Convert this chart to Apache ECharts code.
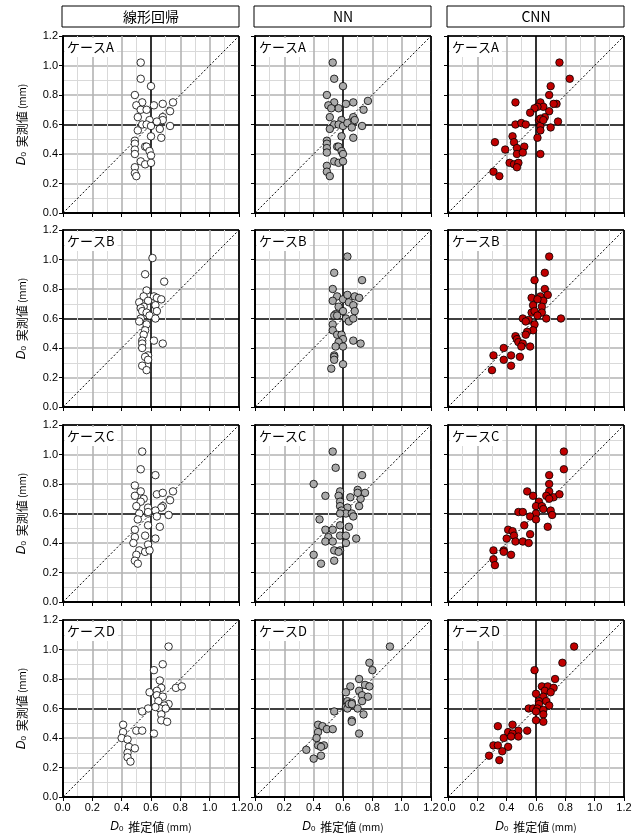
<!DOCTYPE html>
<html>
<head>
<meta charset="utf-8">
<script src="https://cdn.jsdelivr.net/npm/echarts@6/dist/echarts.min.js"></script>
<style>
  html, body { margin: 0; padding: 0; background: #fff; }
  #chart { width: 641px; height: 840px; }
</style>
</head>
<body>
<div id="chart"></div>
<script>
const linearA = [[0.53,1.02],[0.53,0.91],[0.60,0.86],[0.49,0.80],[0.54,0.75],[0.50,0.73],[0.53,0.70],[0.57,0.70],[0.62,0.73],[0.68,0.74],[0.75,0.75],[0.73,0.69],[0.51,0.65],[0.68,0.65],[0.59,0.63],[0.68,0.63],[0.54,0.60],[0.57,0.60],[0.60,0.59],[0.64,0.62],[0.66,0.57],[0.73,0.59],[0.51,0.56],[0.60,0.52],[0.67,0.51],[0.49,0.49],[0.49,0.47],[0.56,0.45],[0.57,0.45],[0.49,0.43],[0.49,0.40],[0.59,0.42],[0.60,0.39],[0.53,0.35],[0.56,0.33],[0.60,0.34],[0.49,0.31],[0.49,0.27],[0.50,0.25]];
const nnA = [[0.53,1.02],[0.54,0.91],[0.60,0.86],[0.49,0.80],[0.54,0.75],[0.50,0.73],[0.57,0.71],[0.52,0.71],[0.62,0.74],[0.67,0.75],[0.77,0.76],[0.74,0.70],[0.51,0.65],[0.67,0.65],[0.59,0.63],[0.68,0.63],[0.54,0.60],[0.57,0.60],[0.60,0.59],[0.63,0.61],[0.66,0.58],[0.73,0.59],[0.51,0.57],[0.59,0.52],[0.67,0.51],[0.49,0.49],[0.49,0.47],[0.56,0.45],[0.57,0.45],[0.49,0.44],[0.49,0.41],[0.59,0.42],[0.60,0.40],[0.54,0.35],[0.57,0.34],[0.60,0.35],[0.49,0.32],[0.49,0.28],[0.51,0.25]];
const cnnA = [[0.76,1.02],[0.83,0.91],[0.70,0.86],[0.69,0.80],[0.46,0.75],[0.63,0.75],[0.74,0.74],[0.65,0.72],[0.61,0.72],[0.59,0.71],[0.56,0.68],[0.69,0.69],[0.72,0.74],[0.66,0.65],[0.62,0.63],[0.63,0.64],[0.46,0.60],[0.50,0.61],[0.53,0.60],[0.63,0.59],[0.70,0.58],[0.75,0.62],[0.65,0.63],[0.63,0.56],[0.61,0.51],[0.44,0.52],[0.32,0.48],[0.45,0.48],[0.39,0.43],[0.52,0.45],[0.47,0.44],[0.47,0.40],[0.51,0.41],[0.63,0.40],[0.42,0.34],[0.45,0.33],[0.48,0.34],[0.47,0.31],[0.31,0.28],[0.35,0.25]];

const linearB = [[0.61,1.01],[0.56,0.90],[0.69,0.85],[0.57,0.79],[0.55,0.75],[0.62,0.75],[0.64,0.74],[0.67,0.73],[0.58,0.72],[0.52,0.71],[0.63,0.69],[0.55,0.68],[0.53,0.67],[0.54,0.65],[0.64,0.65],[0.57,0.64],[0.59,0.62],[0.63,0.60],[0.53,0.60],[0.52,0.58],[0.57,0.56],[0.56,0.52],[0.55,0.49],[0.54,0.45],[0.62,0.45],[0.68,0.43],[0.54,0.43],[0.54,0.40],[0.58,0.35],[0.56,0.34],[0.58,0.32],[0.54,0.28],[0.57,0.25]];
const nnB = [[0.63,1.02],[0.54,0.91],[0.73,0.86],[0.53,0.80],[0.56,0.75],[0.53,0.72],[0.60,0.73],[0.63,0.76],[0.68,0.75],[0.71,0.74],[0.64,0.71],[0.67,0.69],[0.57,0.68],[0.68,0.65],[0.60,0.65],[0.55,0.63],[0.54,0.62],[0.56,0.62],[0.62,0.60],[0.64,0.58],[0.67,0.60],[0.53,0.56],[0.53,0.52],[0.56,0.49],[0.59,0.49],[0.60,0.46],[0.57,0.44],[0.67,0.45],[0.72,0.43],[0.55,0.41],[0.60,0.41],[0.54,0.35],[0.54,0.34],[0.54,0.32],[0.60,0.29],[0.52,0.26]];
const cnnB = [[0.69,1.02],[0.66,0.91],[0.59,0.86],[0.66,0.80],[0.57,0.74],[0.63,0.75],[0.68,0.76],[0.65,0.72],[0.61,0.73],[0.58,0.69],[0.64,0.68],[0.57,0.64],[0.59,0.65],[0.64,0.64],[0.61,0.62],[0.51,0.60],[0.55,0.59],[0.53,0.58],[0.67,0.60],[0.77,0.60],[0.59,0.56],[0.58,0.52],[0.54,0.51],[0.53,0.49],[0.46,0.48],[0.47,0.46],[0.48,0.44],[0.51,0.43],[0.50,0.41],[0.56,0.41],[0.38,0.40],[0.31,0.35],[0.43,0.35],[0.49,0.34],[0.38,0.32],[0.43,0.28],[0.30,0.25]];

const linearC = [[0.54,1.02],[0.53,0.90],[0.63,0.86],[0.49,0.79],[0.53,0.75],[0.49,0.72],[0.55,0.70],[0.64,0.73],[0.68,0.74],[0.75,0.75],[0.73,0.69],[0.53,0.68],[0.50,0.65],[0.68,0.65],[0.58,0.64],[0.67,0.64],[0.52,0.60],[0.58,0.60],[0.63,0.62],[0.64,0.58],[0.72,0.59],[0.51,0.56],[0.58,0.52],[0.66,0.51],[0.49,0.49],[0.56,0.45],[0.49,0.44],[0.63,0.43],[0.48,0.40],[0.58,0.39],[0.52,0.35],[0.56,0.34],[0.59,0.35],[0.50,0.32],[0.49,0.28],[0.51,0.26],[0.58,0.61]];
const nnC = [[0.53,1.02],[0.55,0.91],[0.73,0.86],[0.40,0.80],[0.48,0.72],[0.58,0.75],[0.57,0.72],[0.65,0.71],[0.70,0.76],[0.75,0.74],[0.72,0.70],[0.70,0.74],[0.58,0.68],[0.58,0.65],[0.71,0.65],[0.63,0.64],[0.59,0.62],[0.62,0.60],[0.58,0.60],[0.66,0.60],[0.67,0.58],[0.44,0.56],[0.58,0.52],[0.64,0.51],[0.48,0.49],[0.53,0.49],[0.50,0.44],[0.58,0.45],[0.62,0.45],[0.69,0.43],[0.48,0.41],[0.53,0.41],[0.62,0.40],[0.54,0.35],[0.58,0.35],[0.57,0.34],[0.40,0.32],[0.54,0.28],[0.45,0.26]];
const cnnC = [[0.79,1.02],[0.79,0.90],[0.69,0.86],[0.69,0.80],[0.54,0.75],[0.58,0.72],[0.62,0.68],[0.69,0.75],[0.67,0.72],[0.72,0.71],[0.76,0.73],[0.69,0.70],[0.60,0.65],[0.64,0.65],[0.65,0.63],[0.48,0.61],[0.51,0.61],[0.60,0.60],[0.70,0.62],[0.71,0.59],[0.56,0.58],[0.60,0.56],[0.52,0.52],[0.68,0.51],[0.41,0.49],[0.44,0.48],[0.45,0.45],[0.56,0.46],[0.40,0.43],[0.46,0.41],[0.51,0.41],[0.55,0.40],[0.31,0.35],[0.38,0.35],[0.38,0.34],[0.43,0.32],[0.31,0.29],[0.32,0.25]];

const linearD = [[0.72,1.02],[0.68,0.90],[0.62,0.86],[0.66,0.79],[0.67,0.74],[0.77,0.74],[0.81,0.75],[0.59,0.71],[0.64,0.72],[0.64,0.69],[0.68,0.68],[0.65,0.65],[0.72,0.63],[0.69,0.62],[0.58,0.60],[0.66,0.60],[0.70,0.60],[0.54,0.58],[0.67,0.56],[0.67,0.52],[0.71,0.51],[0.41,0.49],[0.50,0.45],[0.54,0.45],[0.41,0.44],[0.62,0.43],[0.40,0.40],[0.44,0.39],[0.45,0.34],[0.49,0.33],[0.44,0.30],[0.44,0.27],[0.46,0.24],[0.63,0.61]];
const nnD = [[0.92,1.02],[0.78,0.91],[0.80,0.86],[0.71,0.80],[0.65,0.75],[0.75,0.76],[0.78,0.75],[0.62,0.71],[0.71,0.72],[0.73,0.69],[0.77,0.68],[0.63,0.65],[0.73,0.65],[0.66,0.64],[0.62,0.61],[0.63,0.60],[0.70,0.60],[0.74,0.56],[0.54,0.58],[0.66,0.52],[0.66,0.51],[0.43,0.49],[0.46,0.48],[0.49,0.46],[0.53,0.46],[0.43,0.44],[0.71,0.43],[0.42,0.40],[0.43,0.35],[0.47,0.35],[0.45,0.34],[0.35,0.32],[0.45,0.28],[0.40,0.26],[0.64,0.63],[0.66,0.63]];
const cnnD = [[0.86,1.02],[0.78,0.91],[0.59,0.86],[0.73,0.80],[0.64,0.75],[0.68,0.75],[0.72,0.74],[0.66,0.72],[0.70,0.71],[0.60,0.70],[0.65,0.68],[0.62,0.65],[0.67,0.65],[0.62,0.63],[0.69,0.62],[0.55,0.60],[0.58,0.60],[0.61,0.60],[0.65,0.59],[0.60,0.58],[0.65,0.56],[0.60,0.52],[0.65,0.51],[0.34,0.48],[0.44,0.49],[0.54,0.45],[0.48,0.45],[0.41,0.44],[0.44,0.43],[0.48,0.41],[0.38,0.40],[0.43,0.41],[0.31,0.35],[0.34,0.35],[0.41,0.34],[0.37,0.31],[0.28,0.28],[0.35,0.25]];

const methods = ['線形回帰', 'NN', 'CNN'];
const cases = ['A', 'B', 'C', 'D'];
const panels = [
    [linearA, nnA, cnnA],
    [linearB, nnB, cnnB],
    [linearC, nnC, cnnC],
    [linearD, nnD, cnnD]
];
const fills = ['#ffffff', '#aaaaaa', '#c00000'];

const rowTops = [36, 230, 425, 620];
const colLefts = [63, 255, 448];
const W = 176, H = 177;
const jp = '"Noto Sans CJK JP", sans-serif';
const num = '"Liberation Sans", Arial, sans-serif';

// 0.0 / 0.6 / 1.2 lines black, other majors gray
const majorColors = ['#000', '#b3b3b3', '#b3b3b3', '#000', '#b3b3b3', '#b3b3b3', '#000'];

const nameRich = {
    i: { fontStyle: 'italic', fontSize: 12, fontFamily: num, color: '#000' },
    s: { fontSize: 8, fontFamily: num, color: '#000', verticalAlign: 'bottom', lineHeight: 8, padding: [0, 2, 0, 0] },
    t: { fontSize: 12, fontFamily: jp, color: '#000' },
    u: { fontSize: 10, fontFamily: jp, color: '#000' }
};

function valueAxis(idx, showLabel, name) {
    return {
        gridIndex: idx,
        type: 'value',
        min: 0,
        max: 1.2,
        interval: 0.2,
        axisLine: { show: true, onZero: false, lineStyle: { color: '#000', width: 2 } },
        axisTick: { show: true, length: 4, lineStyle: { color: '#000', width: 1 } },
        axisLabel: {
            show: showLabel,
            fontSize: 11,
            fontFamily: num,
            color: '#000',
            margin: 5,
            formatter: v => v.toFixed(1)
        },
        splitLine: { show: true, lineStyle: { color: majorColors, width: 1.6 } },
        minorTick: { show: false, splitNumber: 2 },
        minorSplitLine: { show: true, lineStyle: { color: '#d9d9d9', width: 1 } },
        name: name,
        nameLocation: 'middle',
        nameTextStyle: { rich: nameRich }
    };
}

const grids = [], xAxes = [], yAxes = [], series = [], graphics = [];

for (let r = 0; r < 4; r++) {
    for (let c = 0; c < 3; c++) {
        let idx = r * 3 + c;
        grids.push({
            left: colLefts[c],
            top: rowTops[r],
            width: W,
            height: H,
            show: true,
            backgroundColor: '#fff',
            borderColor: '#000',
            borderWidth: 1
        });
        let xa = valueAxis(idx, r === 3, r === 3 ? '{i|D}{s|0}{t| 推定値}{u| (mm)}' : '');
        xa.nameGap = 24;
        xAxes.push(xa);
        let ya = valueAxis(idx, c === 0, c === 0 ? '{i|D}{s|0}{t| 実測値}{u| (mm)}' : '');
        ya.nameGap = 35;
        yAxes.push(ya);

        series.push({
            type: 'line',
            xAxisIndex: idx,
            yAxisIndex: idx,
            data: [[0, 0], [1.2, 1.2]],
            symbol: 'none',
            silent: true,
            lineStyle: { color: '#000', width: 1, type: [2, 2] },
            z: 3
        });
        series.push({
            type: 'scatter',
            xAxisIndex: idx,
            yAxisIndex: idx,
            data: panels[r][c],
            symbol: 'circle',
            symbolSize: 7.5,
            itemStyle: { color: fills[c], borderColor: '#000', borderWidth: 0.8, opacity: 1 },
            z: 4
        });

        graphics.push({
            type: 'text',
            x: colLefts[c] + 2,
            y: rowTops[r] + 2,
            z: 100,
            style: {
                text: 'ケース' + cases[r],
                font: '13px ' + jp,
                fill: '#000',
                backgroundColor: '#fff',
                padding: [3, 3, 3, 2]
            }
        });
    }
}

for (let c = 0; c < 3; c++) {
    graphics.push({
        type: 'rect',
        z: 100,
        shape: { x: colLefts[c] - 1, y: 6, width: W + 1, height: 21 },
        style: { fill: '#fff', stroke: '#000', lineWidth: 1 }
    });
    graphics.push({
        type: 'text',
        z: 101,
        x: colLefts[c] + W / 2,
        y: 16.5,
        style: {
            text: methods[c],
            font: '14px ' + jp,
            fill: '#000',
            align: 'center',
            verticalAlign: 'middle',
            textAlign: 'center',
            textVerticalAlign: 'middle'
        }
    });
}

const chart = echarts.init(document.getElementById('chart'), null, { renderer: 'canvas' });
chart.setOption({
    backgroundColor: '#fff',
    animation: false,
    grid: grids,
    xAxis: xAxes,
    yAxis: yAxes,
    series: series,
    graphic: graphics
});
</script>
</body>
</html>
